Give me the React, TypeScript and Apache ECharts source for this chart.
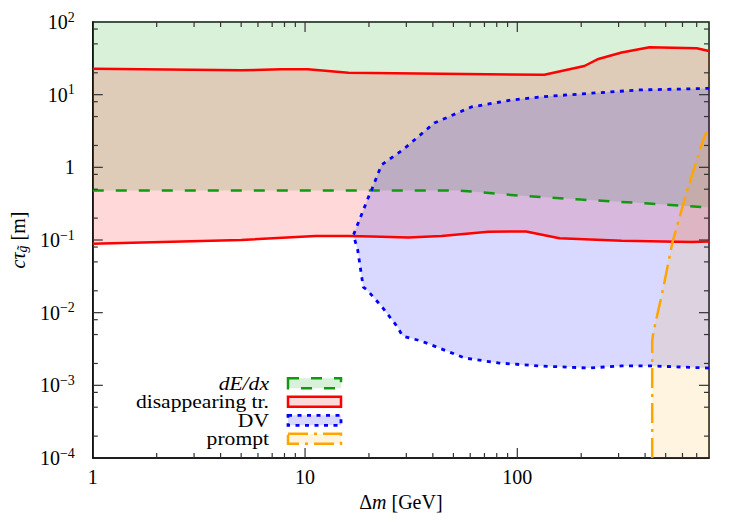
import React, { useEffect, useRef } from "react";
import * as echarts from "echarts";

const FONT = "Liberation Serif, serif";

const X_MIN = 1;
const X_MAX = 800;
const Y_MIN = 1e-4;
const Y_MAX = 100;

// dE/dx lower boundary (region extends up to top)
const dedxX = [1, 53, 100, 200, 400, 800];
const dedxY = [0.48, 0.48, 0.41, 0.36, 0.32, 0.28];

// disappearing track: upper and lower boundaries
const disUpX = [1, 5, 7.7, 10.3, 16, 134, 207, 241, 310, 420, 700, 800];
const disUpY = [22.8, 21.6, 22.3, 22.3, 20, 18.8, 24.8, 31, 38, 45, 43.5, 40];
const disLoX = [1, 5, 11.2, 16, 20.6, 30.7, 43.9, 73.1, 110, 158, 310, 661, 800];
const disLoY = [0.089, 0.1, 0.1135, 0.1135, 0.112, 0.108, 0.1135, 0.13, 0.131, 0.106, 0.098, 0.094, 0.095];

// displaced vertex: closed contour (upper left->right, then lower right->left)
const dvX = [16.9, 19.9, 20.6, 22.9, 28.8, 40.6, 60.7, 93.8, 134, 216, 372, 800,
  800, 429, 310, 216, 126, 81.5, 56.4, 35.3, 28.8, 27.2, 23, 19.6, 18.8, 17.7];
const dvY = [0.117, 0.39, 0.49, 1.08, 1.73, 4.07, 6.77, 8.45, 9.4, 10.4, 11.6, 12.2,
  0.00173, 0.00185, 0.00185, 0.00173, 0.00185, 0.00203, 0.00238, 0.00407, 0.00477, 0.0064, 0.0121, 0.0205, 0.0225, 0.073];

// prompt boundary
const promptX = [432, 432, 437, 488, 537, 632, 745, 778];
const promptY = [1e-4, 0.0041, 0.00525, 0.0225, 0.091, 0.488, 2.23, 3.06];

// axis ticks
const xMajorTicks = [1, 10, 100];
const xMinorMult = [2, 3, 4, 5, 6, 7, 8, 9];
const yMajorTicks = [1e-4, 1e-3, 1e-2, 1e-1, 1, 10, 100];
const yMinorMult = [2, 5, 8];

const legendNames = ["dE/dx", "disappearing tr.", "DV", "prompt"];

const zip = (xs: number[], ys: number[]) => xs.map((x, i) => [x, ys[i]]);

const GREEN = "#109a10";
const RED = "#ff0000";
const BLUE = "#0000ff";
const ORANGE = "#ffa500";
const GREEN_F = "rgba(0,155,0,0.15)";
const RED_F = "rgba(255,0,0,0.15)";
const BLUE_F = "rgba(0,0,255,0.15)";
const ORANGE_F = "rgba(255,165,0,0.12)";

const DASH_GREEN = [11, 12];
const DASH_BLUE = [4, 5.5];
const DASH_ORANGE = [20, 6, 3, 6];

function fillSeries(pts: number[][], color: string) {
  return {
    type: "custom",
    silent: true,
    clip: true,
    z: 1,
    data: [[1, 1]],
    renderItem: (_params: any, api: any) => ({
      type: "polygon",
      shape: { points: pts.map((p) => api.coord(p)) },
      style: { fill: color },
    }),
  };
}

function lineSeries(pts: number[][], color: string, width: number, type: any, cap = "butt") {
  return {
    type: "line",
    data: pts,
    showSymbol: false,
    symbol: "none",
    silent: true,
    clip: true,
    z: 5,
    lineStyle: { color, width, type, cap },
  };
}

function fmtExp(v: number) {
  const e = Math.log10(v);
  const r = Math.round(e);
  return { e, r };
}

export default function App() {
  const ref = useRef<HTMLDivElement>(null);
  useEffect(() => {
    document.body.style.margin = "0";
    if (!ref.current) return;
    const chart = echarts.init(ref.current, undefined, { renderer: "svg" });

    const dedxPoly = [...zip(dedxX, dedxY), [X_MAX, Y_MAX], [X_MIN, Y_MAX]];
    const disUp = zip(disUpX, disUpY);
    const disLo = zip(disLoX, disLoY);
    const disPoly = [...disUp, ...disLo.slice().reverse()];
    const dvPoly = zip(dvX, dvY);
    const dvLine = [...dvPoly.slice(12), ...dvPoly.slice(0, 12)];
    const prompt = zip(promptX, promptY);
    const promptPoly = [...prompt, [X_MAX, promptY[promptY.length - 1]], [X_MAX, Y_MIN]];

    const tickSeries = {
      type: "custom",
      silent: true,
      clip: false,
      z: 10,
      data: [[1, 1]],
      renderItem: (_params: any, api: any) => {
        const children: any[] = [];
        const seg = (x1: number, y1: number, x2: number, y2: number) =>
          children.push({
            type: "line",
            shape: { x1, y1, x2, y2 },
            style: { stroke: "#333", lineWidth: 1.2 },
          });
        const xt = (x: number, len: number) => {
          const b = api.coord([x, Y_MIN]);
          const t = api.coord([x, Y_MAX]);
          seg(b[0], b[1], b[0], b[1] - len);
          seg(t[0], t[1], t[0], t[1] + len);
        };
        const yt = (y: number, len: number) => {
          const l = api.coord([X_MIN, y]);
          const r = api.coord([X_MAX, y]);
          seg(l[0], l[1], l[0] + len, l[1]);
          seg(r[0], r[1], r[0] - len, r[1]);
        };
        xMajorTicks.forEach((x) => {
          if (x > X_MIN) xt(x, 10);
          xMinorMult.forEach((m) => {
            const v = x * m;
            if (v < X_MAX) xt(v, 5);
          });
        });
        yMajorTicks.forEach((y) => {
          if (y > Y_MIN && y < Y_MAX) yt(y, 10);
          yMinorMult.forEach((m) => {
            const v = y * m;
            if (v < Y_MAX) yt(v, 5);
          });
        });
        return { type: "group", children };
      },
    };

    const legendStyles = [
      { stroke: GREEN, fill: GREEN_F, dash: DASH_GREEN, w: 2.5 },
      { stroke: RED, fill: RED_F, dash: null, w: 2.5 },
      { stroke: BLUE, fill: BLUE_F, dash: DASH_BLUE, w: 2.8 },
      { stroke: ORANGE, fill: ORANGE_F, dash: DASH_ORANGE, w: 2.5 },
    ];
    const legendGraphics: any[] = [];
    legendNames.forEach((name, i) => {
      const cy = 383.3 + i * 18.5;
      const s = legendStyles[i];
      legendGraphics.push({
        type: "rect",
        shape: { x: 288, y: cy - 5, width: 53, height: 10 },
        style: {
          fill: s.fill,
          stroke: s.stroke,
          lineWidth: s.w,
          lineDash: s.dash || undefined,
        },
        z: 20,
      });
      legendGraphics.push({
        type: "text",
        x: 269,
        y: cy,
        scaleX: 1.2,
        style: {
          text: name,
          fontFamily: FONT,
          fontSize: 18,
          lineHeight: 17,
          fontStyle: i === 0 ? "italic" : "normal",
          fill: "#000",
          align: "right",
          verticalAlign: "middle",
          textAlign: "right",
          textVerticalAlign: "middle",
        },
        z: 20,
      });
    });

    const option: any = {
      animation: false,
      textStyle: { fontFamily: FONT },
      grid: {
        left: 92,
        right: 33,
        top: 22,
        bottom: 64,
        show: true,
        borderColor: "#111",
        borderWidth: 1.5,
        backgroundColor: "transparent",
      },
      xAxis: {
        type: "log",
        logBase: 10,
        min: X_MIN,
        max: X_MAX,
        splitNumber: 3,
        axisLine: { show: true, onZero: false, lineStyle: { color: "#111", width: 1.5 } },
        axisTick: { show: false },
        minorTick: { show: false },
        splitLine: { show: false },
        axisLabel: {
          fontFamily: FONT,
          fontSize: 20,
          color: "#000",
          margin: 9,
          showMaxLabel: false,
          formatter: (v: number) => {
            const { e, r } = fmtExp(v);
            if (Math.abs(e - r) > 1e-6) return "";
            return String(Math.round(Math.pow(10, r)));
          },
        },
        name: "{n|Δ}{i|m}{n| [GeV]}",
        nameLocation: "middle",
        nameGap: 30,
        nameTextStyle: {
          fontFamily: FONT,
          rich: {
            n: { fontFamily: FONT, fontSize: 20, color: "#000" },
            i: { fontFamily: FONT, fontSize: 20, fontStyle: "italic", color: "#000" },
          },
        },
      },
      yAxis: {
        type: "log",
        logBase: 10,
        min: Y_MIN,
        max: Y_MAX,
        splitNumber: 6,
        axisLine: { show: true, onZero: false, lineStyle: { color: "#111", width: 1.5 } },
        axisTick: { show: false },
        minorTick: { show: false },
        splitLine: { show: false },
        axisLabel: {
          margin: 18,
          fontFamily: FONT,
          formatter: (v: number) => {
            const { e, r } = fmtExp(v);
            if (Math.abs(e - r) > 1e-6) return "";
            if (r === 0) return "{b|1}";
            return `{b|10}{s|${r < 0 ? "−" + -r : r}}`;
          },
          rich: {
            b: { fontFamily: FONT, fontSize: 20, color: "#000" },
            s: { fontFamily: FONT, fontSize: 14, color: "#000", padding: [0, 0, 10, 0] },
          },
        },
        name: "{i|cτ}{sub|g̃}{n| [m]}",
        nameLocation: "middle",
        nameRotate: 90,
        nameGap: 60,
        nameTextStyle: {
          fontFamily: FONT,
          rich: {
            i: { fontFamily: FONT, fontSize: 20, fontStyle: "italic", color: "#000" },
            sub: { fontFamily: FONT, fontSize: 14, fontStyle: "italic", color: "#000", padding: [8, 0, 0, 0] },
            n: { fontFamily: FONT, fontSize: 20, color: "#000" },
          },
        },
      },
      series: [
        fillSeries(dedxPoly, GREEN_F),
        fillSeries(disPoly, RED_F),
        fillSeries(dvPoly, BLUE_F),
        fillSeries(promptPoly, ORANGE_F),
        lineSeries(zip(dedxX, dedxY), GREEN, 2.5, DASH_GREEN),
        lineSeries(disUp, RED, 2.5, "solid"),
        lineSeries(disLo, RED, 2.5, "solid"),
        lineSeries(dvLine, BLUE, 2.8, DASH_BLUE),
        lineSeries(prompt, ORANGE, 2.5, DASH_ORANGE),
        tickSeries,
      ],
      graphic: legendGraphics,
    };
    chart.setOption(option);
    return () => chart.dispose();
  }, []);
  return <div ref={ref} style={{ width: 742, height: 522 }} />;
}
